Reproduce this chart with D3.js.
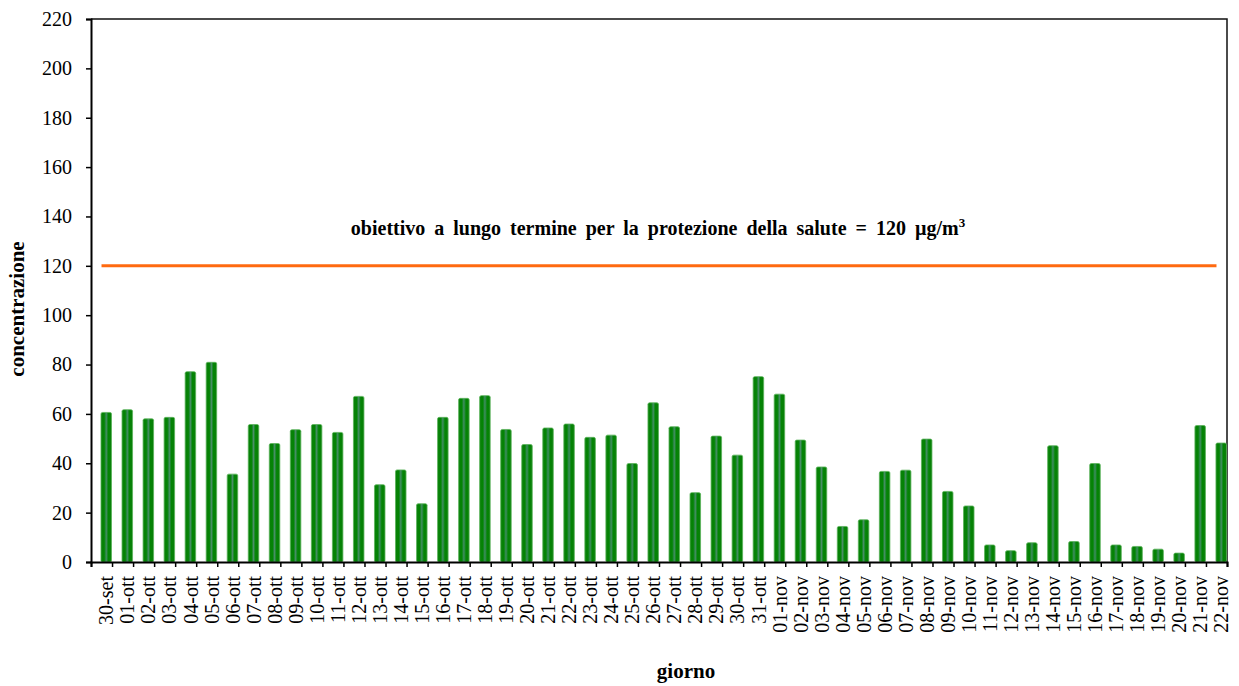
<!DOCTYPE html>
<html><head><meta charset="utf-8">
<script src="https://cdn.jsdelivr.net/npm/d3@7"></script>
<style>body{margin:0;background:#fff} svg{display:block}</style>
</head><body><svg id="c" width="1239" height="686"></svg>
<script>
const categories = ["30-set","01-ott","02-ott","03-ott","04-ott","05-ott","06-ott","07-ott","08-ott","09-ott","10-ott","11-ott","12-ott","13-ott","14-ott","15-ott","16-ott","17-ott","18-ott","19-ott","20-ott","21-ott","22-ott","23-ott","24-ott","25-ott","26-ott","27-ott","28-ott","29-ott","30-ott","31-ott","01-nov","02-nov","03-nov","04-nov","05-nov","06-nov","07-nov","08-nov","09-nov","10-nov","11-nov","12-nov","13-nov","14-nov","15-nov","16-nov","17-nov","18-nov","19-nov","20-nov","21-nov","22-nov"];
const values = [60.6,61.7,58,58.6,77.1,80.9,35.6,55.7,48,53.6,55.7,52.5,67.1,31.3,37.3,23.6,58.6,66.3,67.4,53.7,47.6,54.3,55.9,50.5,51.4,39.9,64.5,54.8,28.1,51,43.3,75.1,68,49.4,38.5,14.4,17.1,36.7,37.2,49.8,28.6,22.7,6.9,4.6,7.8,47.1,8.3,39.9,6.9,6.3,5.2,3.6,55.3,48.2];
const targetValue = 120;
const targetLabel = "obiettivo a lungo termine per la protezione della salute = 120 µg/m";
const targetSup = "3";
const yTicks = [0,20,40,60,80,100,120,140,160,180,200,220];
const yTitle = "concentrazione";
const xTitle = "giorno";

const svg = d3.select("#c");
const L = 91, R = 1227, T = 19, B = 562;
const serif = "'Liberation Serif','Times New Roman',serif";

const x = d3.scaleBand().domain(categories).range([L, R]).padding(0);
const xi = d3.scaleLinear().domain([0, categories.length]).range([L, R]);
const y = d3.scaleLinear().domain([0, 220]).range([B, T]);
const bw = x.bandwidth();

const defs = svg.append("defs");
const g = defs.append("linearGradient").attr("id","bar").attr("x1","0").attr("x2","1").attr("y1","0").attr("y2","0");
[[0,"#0b7f0b"],[0.3,"#038403"],[0.45,"#2f8a4a"],[0.5,"#4b8f66"],[0.55,"#2f8a4a"],[0.7,"#038403"],[1,"#0b7f0b"]]
  .forEach(([o,c]) => g.append("stop").attr("offset",o).attr("stop-color",c));

svg.append("path")
  .attr("d", `M${L},${T}H${R}V${B}`)
  .attr("fill","none").attr("stroke","#111").attr("stroke-width",1.5);

svg.append("g").selectAll("rect").data(values).join("rect")
  .attr("x", (d,i) => x(categories[i]) + bw*0.475)
  .attr("width", bw*0.5)
  .attr("y", d => y(d))
  .attr("height", d => y(0) - y(d))
  .attr("rx", 1.5)
  .attr("fill", "url(#bar)")
  .attr("stroke", "#59b259").attr("stroke-width", 0.8);

const ya = svg.append("g").attr("transform", `translate(${L},0)`)
  .call(d3.axisLeft(y).tickValues(yTicks).tickSize(5).tickPadding(14));
ya.select(".domain").attr("stroke","#000").attr("stroke-width",2);
ya.selectAll(".tick line").attr("stroke","#000").attr("stroke-width",1.5);
ya.selectAll(".tick text").attr("font-family",serif).attr("font-size",20).attr("fill","#000");

const xa = svg.append("g").attr("transform", `translate(0,${B})`)
  .call(d3.axisBottom(xi).tickValues(d3.range(categories.length+1)).tickSize(5).tickFormat(""));
xa.select(".domain").attr("stroke","#000").attr("stroke-width",2);
xa.selectAll(".tick line").attr("stroke","#000").attr("stroke-width",1.5);

const xl = svg.append("g").attr("transform", `translate(0,${B})`)
  .call(d3.axisBottom(x).tickSize(0).tickPadding(0));
xl.select(".domain").remove();
xl.selectAll(".tick text")
  .attr("font-family",serif).attr("font-size",20).attr("fill","#000")
  .attr("text-anchor","end")
  .attr("dy",null).attr("y",null)
  .attr("transform", `translate(${bw*0.23+7},14) rotate(-90)`);

svg.append("line")
  .attr("x1", x(categories[0]) + bw/2).attr("x2", x(categories[categories.length-1]) + bw/2)
  .attr("y1", y(targetValue)).attr("y2", y(targetValue))
  .attr("stroke","#ff6a10").attr("stroke-width",3);

const t = svg.append("text")
  .attr("x", 658).attr("y", 235)
  .attr("text-anchor","middle")
  .attr("font-family",serif).attr("font-weight","bold").attr("font-size",20)
  .attr("word-spacing", 4)
  .attr("fill","#000");
t.append("tspan").text(targetLabel);
t.append("tspan").attr("font-size",13).attr("dy",-8).text(targetSup);

svg.append("text")
  .attr("transform", `translate(24,309) rotate(-90)`)
  .attr("text-anchor","middle")
  .attr("font-family",serif).attr("font-weight","bold").attr("font-size",21)
  .text(yTitle);
svg.append("text")
  .attr("x", 686).attr("y", 678)
  .attr("text-anchor","middle")
  .attr("font-family",serif).attr("font-weight","bold").attr("font-size",21)
  .text(xTitle);
</script>
</body></html>
